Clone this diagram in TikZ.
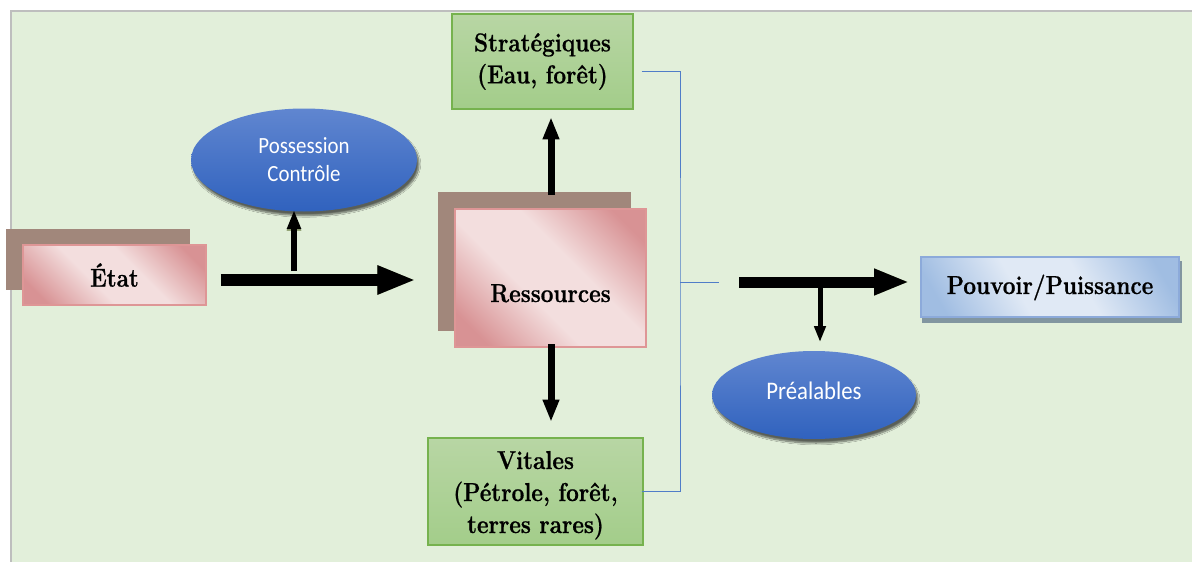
\documentclass[tikz,border=0pt]{standalone}
\usepackage{fontspec}
\setmainfont{Latin Modern Roman}
\newfontfamily\lmbx[FakeStretch=0.87, FakeBold=0.7]{Latin Modern Roman}
\newfontfamily\calib[FakeStretch=0.9]{Carlito}
\usetikzlibrary{arrows.meta,shapes.geometric,shadows.blur,calc}
\definecolor{bgc}{RGB}{226,239,218}
\definecolor{frame}{RGB}{190,190,190}
\definecolor{brownsh}{RGB}{161,135,123}
\definecolor{pinkdark}{RGB}{216,146,148}
\definecolor{pinklight}{RGB}{243,222,222}
\definecolor{pinkedge}{RGB}{222,150,150}
\definecolor{greentop}{RGB}{184,214,164}
\definecolor{greenbot}{RGB}{163,205,138}
\definecolor{greenedge}{RGB}{118,178,78}
\definecolor{bluetop}{RGB}{96,134,208}
\definecolor{bluebot}{RGB}{48,98,190}
\definecolor{lineblue}{RGB}{80,125,200}
\definecolor{olivesh}{RGB}{150,166,120}
\definecolor{pbluel}{RGB}{224,233,245}
\definecolor{pblued}{RGB}{160,189,226}
\definecolor{pedge}{RGB}{140,170,218}
\definecolor{pshadow}{RGB}{130,150,160}
\pgfdeclareverticalshading{pinksh}{100bp}{color(0bp)=(pinkdark); color(22bp)=(pinkdark);
  color(42bp)=(pinklight); color(58bp)=(pinklight); color(78bp)=(pinkdark); color(100bp)=(pinkdark)}
\pgfdeclareverticalshading{bluesh}{100bp}{color(0bp)=(pblued); color(22bp)=(pblued);
  color(42bp)=(pbluel); color(58bp)=(pbluel); color(78bp)=(pblued); color(100bp)=(pblued)}
\tikzset{
  txt/.style={font=\lmbx\bfseries\fontsize{25.9}{32}\selectfont, text=black, align=center},
  brownbox/.style={fill=brownsh, inner sep=0pt},
  pinkbox/.style={draw=pinkedge, line width=1.5pt, inner sep=0pt,
     shading=pinksh, shading angle=-45},
  greenbox/.style={draw=greenedge, line width=1.2pt, inner sep=0pt,
     top color=greentop, bottom color=greenbot},
  blueell/.style={ellipse, inner sep=0pt, top color=bluetop, bottom color=bluebot,
     text=white, align=center,
     blur shadow={shadow xshift=2pt, shadow yshift=-4pt, shadow blur steps=10, shadow opacity=60}},
  bigarrow/.style={line width=#1, -{Triangle[length=3.2*#1, width=2.2*#1]}},
  conn/.style={draw=lineblue, line width=1pt},
}
\begin{document}
\begin{tikzpicture}[x=1pt,y=-1pt]
\useasboundingbox (0,0) rectangle (1192,562);
\fill[white] (0,0) rectangle (1192,562);
\fill[bgc] (11,11) rectangle (1192,562);
\draw[frame, line width=1.5pt] (11,562) -- (11,11) -- (1192,11);

% Etat
\node[brownbox, minimum width=184pt, minimum height=61pt] (etatsh) at (98,259.5) {};
\node[pinkbox, txt, minimum width=183pt, minimum height=60pt] (etat) at (114.5,275) {État};

% Ressources
\node[brownbox, minimum width=193pt, minimum height=139pt] (ressh) at (534.5,261.5) {};
\node[pinkbox, txt, minimum width=191pt, minimum height=138pt] (res) at (550.5,278)
   {\raisebox{-24pt}[0pt][0pt]{Ressources}};

% Strategiques / Vitales
\node[greenbox, txt, minimum width=181pt, minimum height=95pt] (strat) at (542.5,61.5)
   {Stratégiques\\(Eau, forêt)};
\node[greenbox, txt, minimum width=215pt, minimum height=107pt] (vit) at (535.5,491.5)
   {\raisebox{-10pt}[0pt][0pt]{\parbox{215pt}{\centering Vitales\\(Pétrole, forêt,\\terres rares)}}};

% Pouvoir
\node[fill=pshadow, minimum width=260pt, minimum height=62pt, inner sep=0pt] (pouvsh) at (1052,292) {};
\node[draw=pedge, line width=1.5pt, inner sep=0pt, shading=bluesh, shading angle=-60,
   txt, minimum width=258pt, minimum height=60pt]
   (pouv) at (1050,287) {\raisebox{-7pt}[0pt][0pt]{Pouvoir/Puissance}};

% Ellipses
\node[blueell, font=\calib\fontsize{23.2}{28}\selectfont, minimum width=226pt, minimum height=103pt]
   (poss) at (304,160) {Possession\\Contrôle};
\node[blueell, font=\calib\fontsize{25.3}{28}\selectfont, minimum width=204pt, minimum height=88pt]
   (prea) at (814,395) {\raisebox{9pt}{Préalables}};

% coordinates for arrows
\coordinate (a1s) at ($(etat.east)+(14,5)$);
\coordinate (a1e) at ($(ressh.west)+(-22,18.5)$);
\coordinate (a2s) at (294,271);
\coordinate (a2e) at (poss.south);
\coordinate (a3s) at (551,195);
\coordinate (a3e) at (551,117);
\coordinate (a4s) at (551,344);
\coordinate (a4e) at (551,422);
\coordinate (a5s) at (739,282);
\coordinate (a5e) at ($(pouv.west)+(-11,-5)$);
\coordinate (a6s) at (820,287);
\coordinate (a6e) at (820,342);

% arrow shadows
\begin{scope}[olivesh, shift={(3,4)}]
  \draw[bigarrow=12pt] (a1s) -- (a1e);
  \draw[bigarrow=6pt] (a2s) -- ($(a2e)+(-10,0)$);
  \draw[bigarrow=11pt] (a5s) -- (a5e);
  \draw[bigarrow=5pt] (a6s) -- (a6e);
\end{scope}
% arrows
\draw[bigarrow=12pt] (a1s) -- (a1e);
\draw[bigarrow=6pt] (a2s) -- (294,210);
\draw[bigarrow=7pt] (a3s) -- (a3e);
\draw[bigarrow=7pt] (a4s) -- (a4e);
\draw[bigarrow=11pt] (a5s) -- (a5e);
\draw[bigarrow=5pt] (a6s) -- (a6e);

% blue connectors
\coordinate (j) at (680,282);
\draw[conn] ($(strat.east)+(8,9.5)$) -| (j) |- ($(vit.east)+(-2,-0.5)$);
\draw[conn] (j) -- (719,282);
\end{tikzpicture}
\end{document}
